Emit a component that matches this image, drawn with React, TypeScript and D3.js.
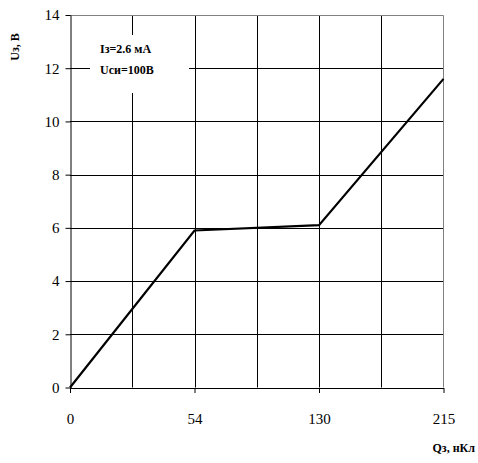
import { useEffect, useRef } from 'react';
import * as d3 from 'd3';

// Charge values (x categories) and gate voltage readings
const charges = ['0', '54', '130', '215'];
const voltages = [0, 5.9, 6.1, 11.6];
const yTicks = [0, 2, 4, 6, 8, 10, 12, 14];
const noteLines = ['Iз=2.6 мА', 'Uси=100В'];

const W = 478;
const H = 463;

const App = () => {
  const svgRef = useRef<SVGSVGElement | null>(null);

  useEffect(() => {
    const root = d3.select(svgRef.current);
    root.selectAll('*').remove();

    const margin = { top: 15, right: 35, bottom: 76, left: 70 };
    const width = 443.5 - margin.left;
    const height = 387.5 - margin.top;

    const svg = root.append('g').attr('transform', `translate(${margin.left},${margin.top})`);

    const x = d3.scalePoint<string>().domain(charges).range([0, width]);
    const y = d3.scaleLinear().domain([0, 14]).range([height, 0]);

    const step = x.step();

    // Horizontal gridlines
    svg.append('g')
      .selectAll('line')
      .data(yTicks.slice(1, -1))
      .enter()
      .append('line')
      .attr('x1', 0)
      .attr('x2', width)
      .attr('y1', d => Math.round(y(d)) + 0.5)
      .attr('y2', d => Math.round(y(d)) + 0.5)
      .attr('stroke', '#000')
      .attr('stroke-width', 1);

    // Vertical gridlines (at each category and halfway between)
    const vGrid: number[] = [];
    charges.forEach((c, i) => {
      if (i > 0) vGrid.push((x(c) as number) - step / 2);
      if (i > 0 && i < charges.length - 1) vGrid.push(x(c) as number);
    });
    svg.append('g')
      .selectAll('line')
      .data(vGrid)
      .enter()
      .append('line')
      .attr('x1', d => Math.round(d) + 0.5)
      .attr('x2', d => Math.round(d) + 0.5)
      .attr('y1', 0)
      .attr('y2', height)
      .attr('stroke', '#000')
      .attr('stroke-width', 1);

    // Top and right border
    svg.append('path')
      .attr('d', `M0,0.5H${width}V${height}`)
      .attr('fill', 'none')
      .attr('stroke', '#808080')
      .attr('stroke-width', 1);

    // Note box
    svg.append('rect')
      .attr('x', 20)
      .attr('y', 20)
      .attr('width', 99)
      .attr('height', 58)
      .attr('fill', '#fff');

    svg.append('g')
      .selectAll('text')
      .data(noteLines)
      .enter()
      .append('text')
      .attr('x', 30)
      .attr('y', (_, i) => 38 + i * 21)
      .style('font-family', '"Liberation Serif", "Times New Roman", serif')
      .style('font-size', '12px')
      .style('font-weight', 'bold')
      .text(d => d);

    // Y axis
    const yAxis = svg.append('g')
      .attr('transform', 'translate(0.5,0)')
      .call(d3.axisLeft(y).tickValues(yTicks).tickSize(5).tickPadding(6).tickSizeOuter(0));
    yAxis.select('.domain').attr('stroke', '#000');
    yAxis.selectAll('text')
      .style('font-family', '"Liberation Serif", "Times New Roman", serif')
      .style('font-size', '15px')
      .attr('fill', '#000');

    // X axis
    const xAxis = svg.append('g')
      .attr('transform', `translate(0,${height + 0.5})`)
      .call(d3.axisBottom(x).tickSize(5).tickPadding(20).tickSizeOuter(0));
    xAxis.select('.domain').attr('stroke', '#000');
    xAxis.selectAll('text')
      .style('font-family', '"Liberation Serif", "Times New Roman", serif')
      .style('font-size', '15px')
      .attr('fill', '#000');

    // Data line
    const line = d3.line<number>()
      .x((_, i) => x(charges[i]) as number)
      .y(d => y(d));

    svg.append('path')
      .datum(voltages)
      .attr('d', line)
      .attr('fill', 'none')
      .attr('stroke', '#000')
      .attr('stroke-width', 2.2)
      .attr('stroke-linejoin', 'miter');

    // Axis titles
    root.append('text')
      .attr('transform', 'translate(19,47) rotate(-90)')
      .attr('text-anchor', 'middle')
      .style('font-family', '"Liberation Serif", "Times New Roman", serif')
      .style('font-size', '12px')
      .style('font-weight', 'bold')
      .text('Uз, В');

    root.append('text')
      .attr('x', 475)
      .attr('y', 452)
      .attr('text-anchor', 'end')
      .style('font-family', '"Liberation Serif", "Times New Roman", serif')
      .style('font-size', '12px')
      .style('font-weight', 'bold')
      .text('Qз, нКл');
  }, []);

  return (
    <svg
      ref={svgRef}
      width={W}
      height={H}
      style={{ position: 'absolute', left: 0, top: 0, background: '#fff' }}
    />
  );
};

export default App;
